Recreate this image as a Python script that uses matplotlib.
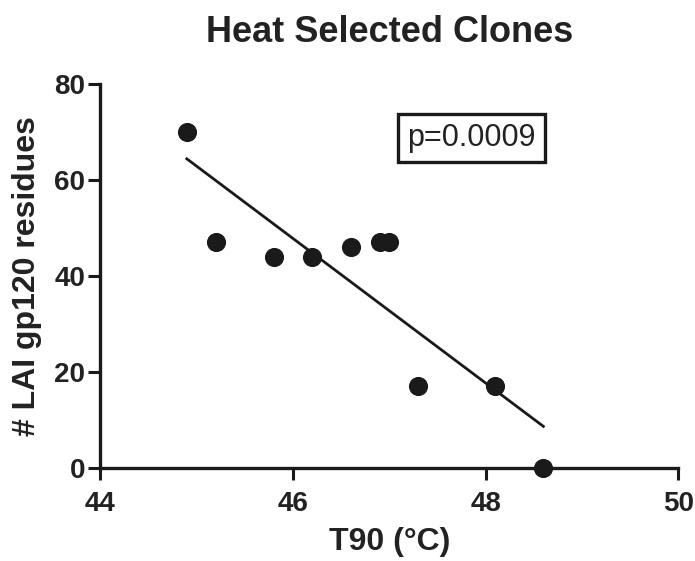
import matplotlib.pyplot as plt
import numpy as np

plt.rcParams['font.family'] = ['Liberation Sans', 'DejaVu Sans']

# values
t90 = [44.9, 45.2, 45.8, 46.2, 46.6, 46.9, 47.0, 47.3, 48.1, 48.6]
residues = [70, 47, 44, 44, 46, 47, 47, 17, 17, 0]
x_ticks = [44, 46, 48, 50]
y_ticks = [0, 20, 40, 60, 80]

fig = plt.figure(figsize=(6.95, 5.61), dpi=100)
ax = fig.add_axes([0.144, 0.166, 0.832, 0.684])

ax.scatter(t90, residues, s=190, color='#1a1a1a', linewidths=0, zorder=3, clip_on=False)

# linear regression line over the data range
slope, intercept = np.polyfit(t90, residues, 1)
xs = np.array([min(t90), max(t90)])
ax.plot(xs, slope * xs + intercept, color='#1a1a1a', linewidth=2.0)

ax.set_xlim(44, 50)
ax.set_ylim(0, 80)
ax.set_xticks(x_ticks)
ax.set_yticks(y_ticks)

for side in ['top', 'right']:
    ax.spines[side].set_visible(False)
for side in ['left', 'bottom']:
    ax.spines[side].set_linewidth(2.4)
    ax.spines[side].set_color('#1a1a1a')

ax.tick_params(direction='out', length=8.5, width=2.2, color='#1a1a1a',
               labelsize=20, labelcolor='#222222')
ax.tick_params(axis='x', pad=8)
ax.tick_params(axis='y', pad=2)
for lbl in ax.get_xticklabels() + ax.get_yticklabels():
    lbl.set_fontweight('bold')

ax.set_xlabel('T90 (°C)', fontsize=23, fontweight='bold', color='#222222', labelpad=7)
ax.set_ylabel('# LAI gp120 residues', fontsize=23, fontweight='bold', color='#222222', labelpad=9)
ax.set_title('Heat Selected Clones', fontsize=26, fontweight='bold', color='#222222', pad=30)

ax.text(0.642, 0.859, 'p=0.0009', transform=ax.transAxes, fontsize=22,
        ha='center', va='center', color='#222222',
        bbox=dict(boxstyle='square,pad=0.3', facecolor='white', edgecolor='#1a1a1a', linewidth=2.4))

fig.savefig('out.png', dpi=100)
